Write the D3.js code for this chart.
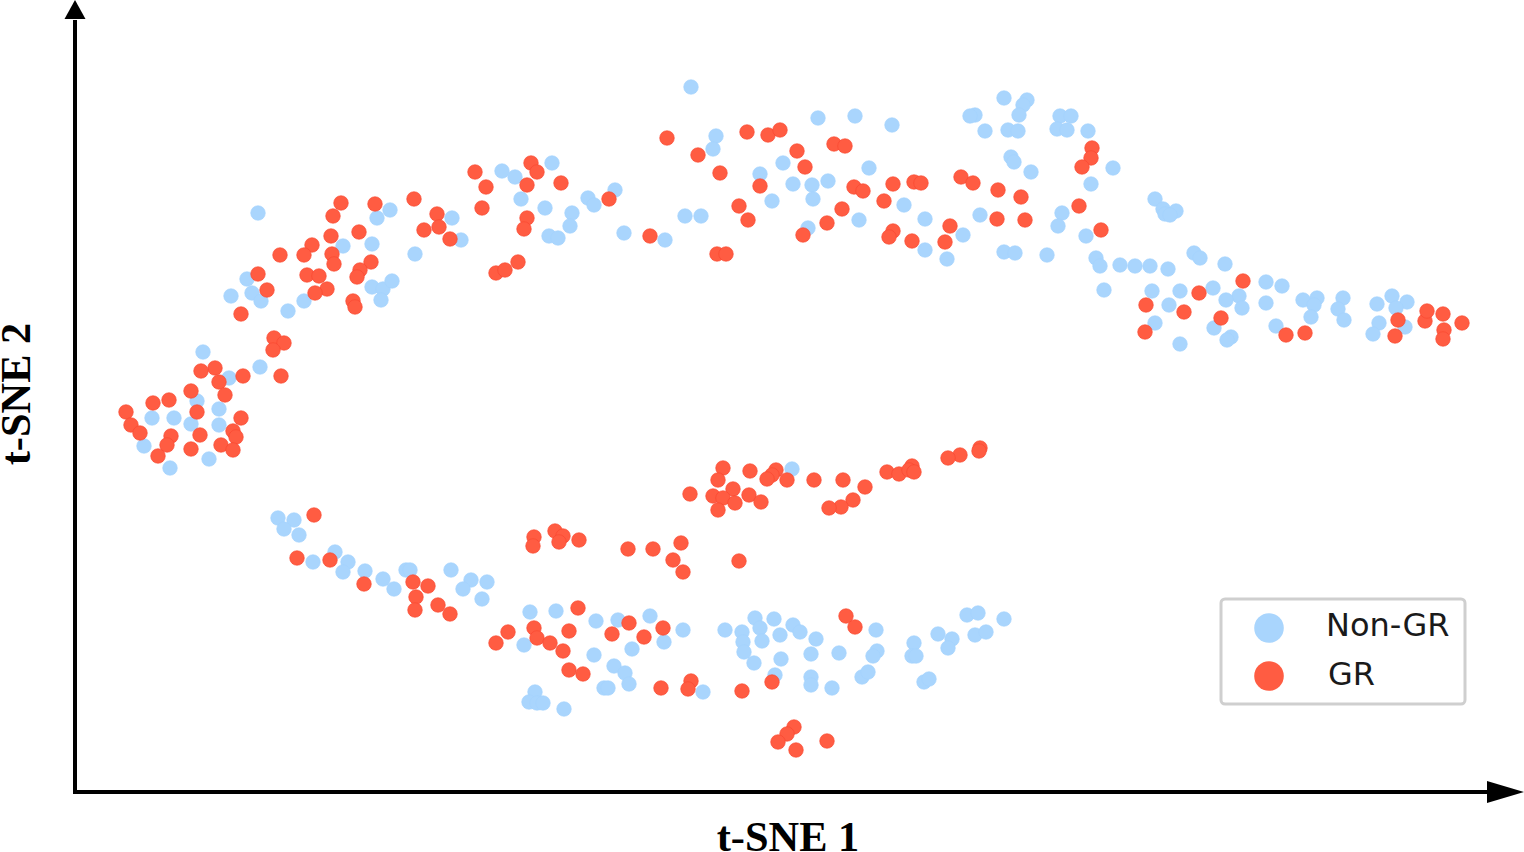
<!DOCTYPE html>
<html><head><meta charset="utf-8">
<script src="https://cdnjs.cloudflare.com/ajax/libs/d3/7.8.5/d3.min.js"></script>
<style>html,body{margin:0;padding:0;background:#fff;overflow:hidden}svg{display:block}</style>
</head><body><div id="chart"></div>
<script>
const xLabel = "t-SNE 1", yLabel = "t-SNE 2";
const seriesNames = ["Non-GR", "GR"];
const nonGrUpperMiddle = [[616,705],[641,656],[638,643],[743,674],[780,676],[817,667],[708,629],[685,618],[718,608],[737,607],[753,611],[794,624],[738,593],[697,591],[829,587],[784,572],[850,573],[733,564],[888,557],[850,542],[872,533],[610,576],[626,576],[590,552],[549,559]];
const nonGrUpperRight = [[929,694],[952,692],[948,687],[944,677],[900,677],[895,676],[910,661],[933,662],[943,661],[985,676],[996,676],[982,663],[992,662],[1013,661],[936,635],[939,630],[956,620],[1038,624],[1016,608],[905,577],[987,579],[983,566],[1011,556],[929,540],[940,539],[972,537]];
const nonGrFarRight = [[1080,593],[1088,583],[1101,581],[1090,578],[1095,577],[1021,534],[1025,526],[1045,527],[1060,526],[1075,526],[1093,523],[1119,539],[1125,534],[1150,528],[1029,502],[1077,501],[1105,501],[1138,504],[1191,510],[1207,506],[1164,496],[1151,492],[1094,487],[1167,484],[1191,489],[1228,492],[1242,494],[1239,487],[1236,475],[1268,494],[1263,483],[1269,472],[1302,488],[1317,496],[1332,490],[1321,484],[1080,469],[1139,464],[1156,455],[1152,452],[1105,448],[1201,466],[1304,469],[1298,458],[1330,465]];
const nonGrUpperLeft = [[183,579],[172,513],[177,499],[156,496],[186,491],[213,481],[229,491],[268,546],[297,548],[302,574],[315,582],[297,505],[308,503],[317,511],[306,492],[340,538],[377,574],[386,552],[427,621],[440,615],[477,629],[446,593],[470,584],[497,579],[495,566],[474,556],[483,554],[513,594],[519,587],[540,602]];
const nonGrFarLeft = [[128,440],[154,414],[185,425],[122,391],[144,383],[77,374],[99,374],[116,368],[144,367],[69,346],[134,333],[95,324]];
const nonGrLowerLeft = [[717,323],[203,274],[219,272],[209,263],[224,257],[260,240],[238,230],[273,230],[268,220],[290,221],[308,213],[319,203],[331,222],[335,222],[376,222],[396,212],[412,210],[388,203],[407,193]];
const nonGrLowerMiddle = [[455,180],[481,181],[521,171],[543,172],[575,176],[608,162],[449,147],[519,137],[557,143],[589,150],[539,126],[550,119],[554,108],[529,104],[533,104],[460,100],[454,90],[462,89],[468,89],[489,83],[628,100]];
const nonGrLowerRight = [[650,162],[667,160],[680,174],[685,164],[699,173],[718,167],[725,160],[705,157],[741,153],[801,162],[668,150],[687,151],[669,140],[679,129],[706,133],[736,138],[764,139],[802,141],[798,136],[839,149],[837,136],[841,136],[863,158],[877,153],[873,144],[892,177],[903,179],[929,173],[900,157],[911,160],[700,117],[736,115],[736,107],[757,104],[787,115],[793,120],[849,110],[854,113]];
const grUpperMiddle = [[592,654],[623,637],[672,660],[693,657],[705,662],[722,641],[759,648],[770,646],[730,625],[645,619],[685,606],[779,605],[788,601],[818,608],[839,610],[846,609],[886,615],[898,609],[923,602],[946,595],[1017,644],[1016,634],[1007,625],[1004,586],[1026,562],[664,586],[673,572],[767,583],[752,569],[809,591],[728,557],[818,561],[814,555],[837,551],[875,566],[870,550],[922,573],[950,572],[642,538],[651,538],[575,556]];
const grUpperLeft = [[534,593],[456,629],[462,620],[400,620],[486,609],[411,605],[452,607],[407,584],[452,574],[449,563],[421,519],[430,522],[443,530],[339,593],[300,588],[266,589],[258,576],[284,560],[256,556],[362,578],[349,562],[364,565],[375,553],[237,547],[229,537],[205,537],[257,538],[259,528],[296,530],[285,522],[282,515],[183,518],[232,517],[244,516],[192,502],[252,503],[240,499],[278,491],[280,485],[166,478]];
const grFarLeft = [[199,454],[209,449],[198,442],[140,424],[126,421],[168,416],[206,416],[144,410],[116,401],[150,397],[78,389],[94,392],[51,380],[122,380],[56,367],[166,374],[65,359],[158,361],[96,356],[125,357],[161,355],[92,347],[146,347],[158,342],[116,343],[83,336]];
const grFarRight = [[1168,511],[1124,499],[1071,487],[1109,480],[1146,474],[1323,472],[1350,471],[1352,481],[1368,478],[1387,469],[1369,462],[1368,453],[1320,456],[1070,460],[1211,457],[1230,459]];
const grCentreBand = [[905,344],[904,341],[885,337],[873,334],[837,326],[812,320],[824,318],[834,322],[839,320],[648,324],[675,321],[701,322],[697,317],[692,313],[643,312],[712,312],[739,312],[768,312],[790,305],[615,298],[658,303],[638,296],[648,294],[674,297],[660,289],[686,290],[643,282],[778,292],[766,285],[754,284]];
const grLowerLeft = [[239,277],[222,234],[255,232],[289,208],[338,210],[353,206],[341,195],[340,182],[363,187],[375,178]];
const grCentreLeft = [[480,261],[459,255],[458,246],[488,256],[484,250],[504,252],[553,243],[578,243],[606,249],[598,232],[608,220],[664,231]];
const grLowerMiddle = [[503,184],[459,164],[494,161],[433,160],[462,154],[475,149],[421,149],[488,141],[554,169],[537,158],[569,155],[588,164],[494,122],[508,118],[586,104],[616,111],[613,103],[667,101],[697,110],[771,176],[780,165]];
const grBottom = [[719,65],[712,58],[703,50],[721,42],[752,51]];

const nonGr = [nonGrUpperMiddle,nonGrUpperRight,nonGrFarRight,nonGrUpperLeft,nonGrFarLeft,nonGrLowerLeft,nonGrLowerMiddle,nonGrLowerRight].flat();
const gr = [grUpperMiddle,grUpperLeft,grFarLeft,grFarRight,grCentreBand,grLowerLeft,grCentreLeft,grLowerMiddle,grBottom].flat();

const W = 1524, H = 852;
const x = d3.scaleLinear().domain([0,1449]).range([75,1524]);
const y = d3.scaleLinear().domain([0,792]).range([792,0]);
const color = d3.scaleOrdinal().domain(seriesNames).range(["#a9d5fd","#ff5c42"]);
const edge = d3.scaleOrdinal().domain(seriesNames).range(["#a3d1fd","#f8452f"]);

const svg = d3.select("#chart").append("svg").attr("width",W).attr("height",H).attr("viewBox",`0 0 ${W} ${H}`);
svg.append("defs").append("filter").attr("id","soft").append("feGaussianBlur").attr("stdDeviation",0.5);

const points = svg.append("g").attr("filter","url(#soft)");
[["Non-GR",nonGr],["GR",gr]].forEach(([name,vals])=>{
  points.append("g").attr("class",name).selectAll("circle").data(vals).join("circle")
    .attr("cx",d=>x(d[0])).attr("cy",d=>y(d[1])).attr("r",7.3)
    .attr("fill",color(name)).attr("stroke",edge(name)).attr("stroke-width",0.6);
});

// axes
const ax = svg.append("g");
ax.append("line").attr("x1",x(0)).attr("x2",x(1415)).attr("y1",y(0)).attr("y2",y(0)).attr("stroke","#000").attr("stroke-width",4);
ax.append("line").attr("x1",x(0)).attr("x2",x(0)).attr("y1",y(0)+2).attr("y2",y(772)).attr("stroke","#000").attr("stroke-width",4);
ax.append("path").attr("fill","#000").attr("d",d3.line()([[x(1412),y(0)-11],[x(1449),y(0)],[x(1412),y(0)+11]]));
ax.append("path").attr("fill","#000").attr("d",d3.line()([[x(0)-10.5,y(773)],[x(0),y(792)],[x(0)+10.5,y(773)]]));

const serif = "'Liberation Serif',serif";
svg.append("text").attr("x",788).attr("y",851).attr("text-anchor","middle")
  .attr("font-family",serif).attr("font-weight","bold").attr("font-size",42.4).attr("fill","#000").text(xLabel);
svg.append("text").attr("transform","translate(30,394) rotate(-90)").attr("text-anchor","middle")
  .attr("font-family",serif).attr("font-weight","bold").attr("font-size",42.4).attr("fill","#000").text(yLabel);

// legend
const lg = svg.append("g");
lg.append("rect").attr("x",1221).attr("y",599).attr("width",244).attr("height",105).attr("rx",4)
  .attr("fill","#fff").attr("stroke","#cfcfcf").attr("stroke-width",3);
const rows = [{n:"Non-GR",cy:628,tx:1326,ty:636},{n:"GR",cy:676,tx:1328,ty:685}];
rows.forEach(r=>{
  lg.append("circle").attr("cx",1269).attr("cy",r.cy).attr("r",14.8).attr("fill",color(r.n));
  lg.append("text").attr("x",r.tx).attr("y",r.ty).attr("font-family","'DejaVu Sans',sans-serif")
    .attr("font-size",32).attr("fill","#1a1a1a").text(r.n);
});
</script></body></html>
